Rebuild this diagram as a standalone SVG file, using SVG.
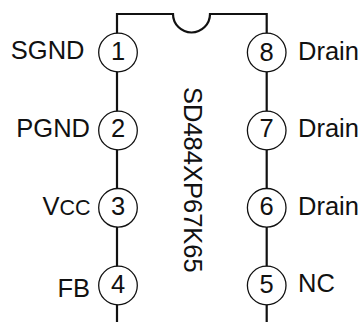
<svg xmlns="http://www.w3.org/2000/svg" width="361" height="322" viewBox="0 0 361 322">
<style>
text{font-family:"Liberation Sans",Arial,sans-serif;fill:#111}
.l{font-size:25.500px}
.n{font-size:25.500px;text-anchor:middle}
.e{text-anchor:end}
circle{fill:#fff;stroke:#111;stroke-width:1.3}
.w{fill:none;stroke:#111;stroke-width:2.2}
</style>
<g id="connectors">
<path class="w" d="M117 322V14H173A18.500 18.500 0 0 0 210 14H266.700V322"/>
</g>
<g id="pin1"><circle cx="118" cy="52.500" r="19.300"/><text class="n" x="118" y="59.500">1</text><text class="l e" x="84.500" y="59">SGND</text></g>
<g id="pin2"><circle cx="118" cy="130.500" r="19.300"/><text class="n" x="118" y="137.300">2</text><text class="l e" x="90" y="137">PGND</text></g>
<g id="pin3"><circle cx="118" cy="207.800" r="19.300"/><text class="n" x="118" y="215">3</text><text class="l e" x="90.500" y="215">V<tspan font-size="21.500">CC</tspan></text></g>
<g id="pin4"><circle cx="118" cy="285.500" r="19.300"/><text class="n" x="118" y="293">4</text><text class="l e" x="90" y="297">FB</text></g>
<g id="pin8"><circle cx="266.700" cy="52.500" r="19.300"/><text class="n" x="266.700" y="60.500">8</text><text class="l" x="298" y="60">Drain</text></g>
<g id="pin7"><circle cx="266.700" cy="130.500" r="19.300"/><text class="n" x="266.700" y="137.300">7</text><text class="l" x="298" y="137">Drain</text></g>
<g id="pin6"><circle cx="266.700" cy="207.800" r="19.300"/><text class="n" x="266.700" y="215">6</text><text class="l" x="298" y="215">Drain</text></g>
<g id="pin5"><circle cx="266.700" cy="285.500" r="19.300"/><text class="n" x="266.700" y="292.500">5</text><text class="l" x="298" y="292">NC</text></g>
<g id="chip-label"><text transform="translate(184,87) rotate(90)" font-size="25.500">SD484XP67K65</text></g>
</svg>
